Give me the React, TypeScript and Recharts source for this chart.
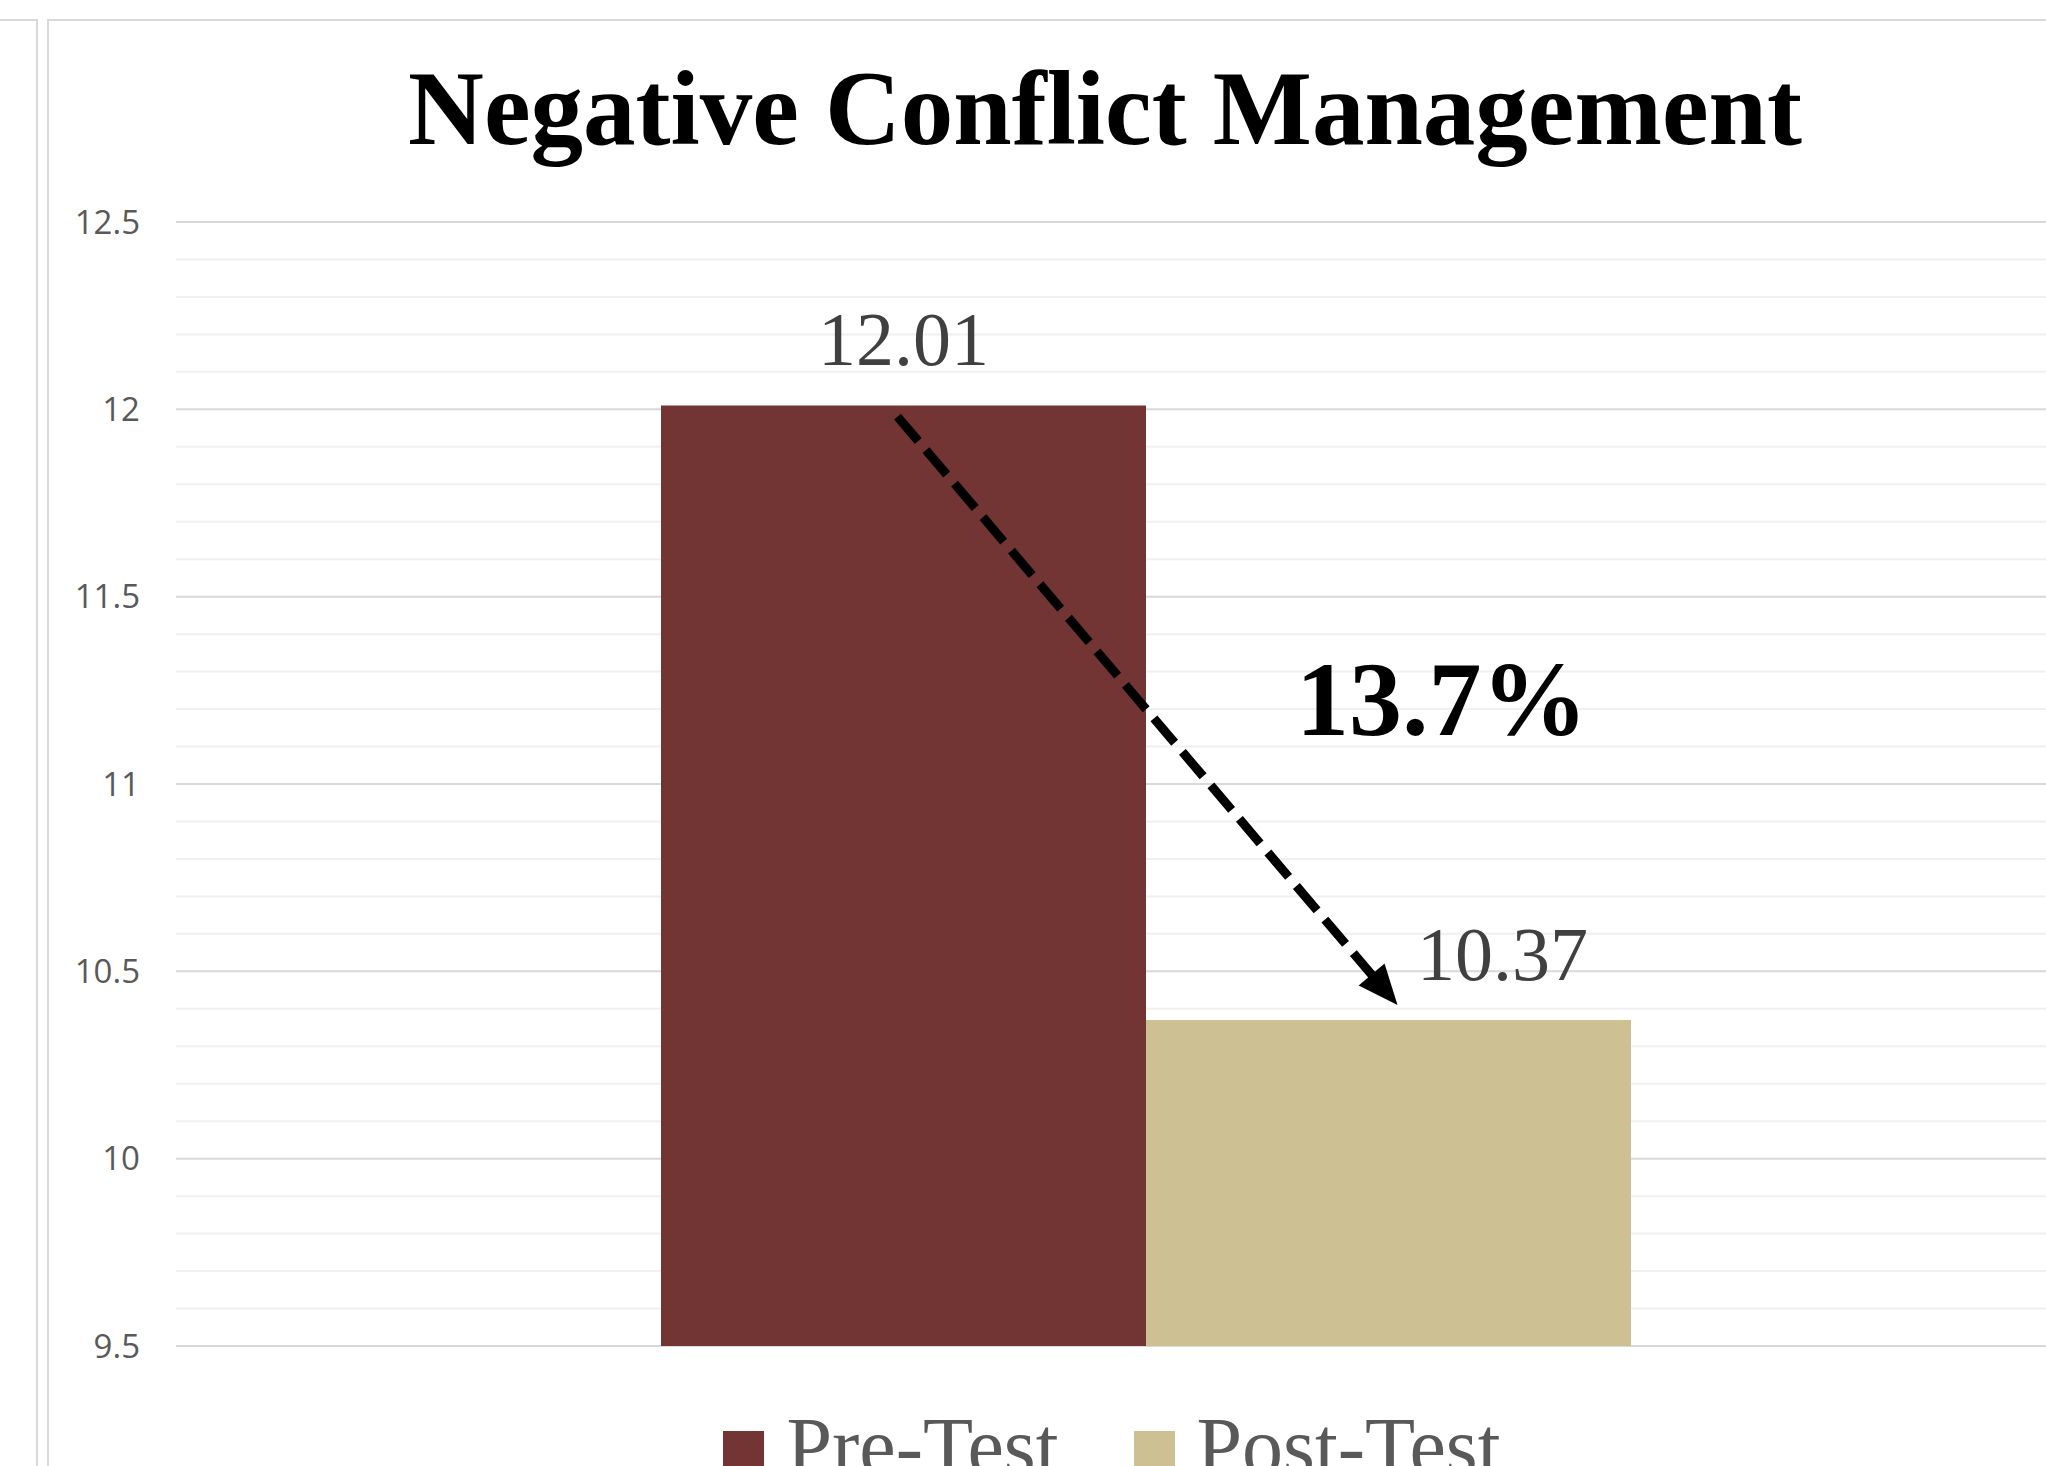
import React from 'react';
import { BarChart, Bar, XAxis, YAxis, CartesianGrid, LabelList } from 'recharts';

// chart values
const categories = ['Negative Conflict Management'];
const preTest = [12.01];
const postTest = [10.37];
const seriesNames = ['Pre-Test', 'Post-Test'];
const seriesColors = ['#733434', '#CDC093'];
const majorTicks = [9.5, 10, 10.5, 11, 11.5, 12, 12.5];
const minorTicks = [
  9.6, 9.7, 9.8, 9.9, 10.1, 10.2, 10.3, 10.4, 10.6, 10.7, 10.8, 10.9,
  11.1, 11.2, 11.3, 11.4, 11.6, 11.7, 11.8, 11.9, 12.1, 12.2, 12.3, 12.4,
];
const yDomain = [9.5, 12.5];
const title = 'Negative Conflict Management';

const data = categories.map((name, i) => ({ name, pre: preTest[i], post: postTest[i] }));
const changePct = (((preTest[0] - postTest[0]) / preTest[0]) * 100).toFixed(1) + '%';

const SERIF = '"Liberation Serif", "Times New Roman", serif';
const SANS = '"Open Sans", "Noto Sans", sans-serif';

const valueLabel = (dx: number, lift: number) => (props: any) => {
  const { x, y, width, value } = props;
  return (
    <text
      x={x + width / 2 + dx}
      y={y - lift}
      textAnchor="middle"
      fontFamily={SERIF}
      fontSize={76}
      fill="#404040"
    >
      {value}
    </text>
  );
};

// post bar also carries the dashed arrow + percent change annotation
const PostBarShape = (props: any) => {
  const { x, y, width, height, fill } = props;
  const pxPerUnit = height / (postTest[0] - yDomain[0]);
  const preTop = y + height - (preTest[0] - yDomain[0]) * pxPerUnit;
  const preCenter = x - width / 2;

  const x1 = preCenter - 6;
  const y1 = preTop + 11;
  const x2 = x + width / 2 + 9;
  const y2 = y - 15;
  const len = Math.hypot(x2 - x1, y2 - y1);
  const ux = (x2 - x1) / len;
  const uy = (y2 - y1) / len;
  const headLen = 40;
  const headHalf = 17;
  const bx = x2 - ux * headLen;
  const by = y2 - uy * headLen;

  return (
    <g>
      <rect x={x} y={y} width={width} height={height} fill={fill} />
      <line
        x1={x1}
        y1={y1}
        x2={bx + ux * 2}
        y2={by + uy * 2}
        stroke="#000"
        strokeWidth={9}
        strokeDasharray="32 12"
      />
      <polygon
        points={`${x2},${y2} ${bx - uy * headHalf},${by + ux * headHalf} ${bx + uy * headHalf},${by - ux * headHalf}`}
        fill="#000"
      />
      <text
        x={x + width * 0.61}
        y={(y1 + y2) / 2 + 24}
        textAnchor="middle"
        fontFamily={SERIF}
        fontWeight="bold"
        fontSize={106}
        fill="#000"
      >
        {changePct}
      </text>
    </g>
  );
};

export default function App() {
  return (
    <div
      style={{
        position: 'fixed',
        left: 0,
        top: 0,
        width: 2046,
        height: 1466,
        overflow: 'hidden',
        background: '#fff',
      }}
    >
      {/* neighbouring panel edge and chart frame */}
      <div
        style={{
          position: 'absolute',
          left: -10,
          top: 19,
          width: 44,
          height: 1600,
          border: '2px solid #d9d9d9',
        }}
      />
      <div
        style={{
          position: 'absolute',
          left: 47,
          top: 19,
          width: 2200,
          height: 1600,
          border: '2px solid #d9d9d9',
        }}
      />

      <div
        style={{
          position: 'absolute',
          left: 0,
          top: 56,
          width: 2210,
          textAlign: 'center',
          fontFamily: SERIF,
          fontWeight: 'bold',
          fontSize: 105,
          lineHeight: 1,
          color: '#000',
        }}
      >
        {title}
      </div>

      <div style={{ position: 'absolute', left: 0, top: 0 }}>
        <BarChart
          width={2160}
          height={1560}
          data={data}
          margin={{ top: 222, right: 44, bottom: 214, left: 0 }}
          barGap={0}
          barCategoryGap="25%"
        >
          <CartesianGrid yAxisId="minor" vertical={false} stroke="#f0f0f0" strokeWidth={2} />
          <CartesianGrid yAxisId="major" vertical={false} stroke="#d9d9d9" strokeWidth={2} />
          <XAxis dataKey="name" hide />
          <YAxis
            yAxisId="minor"
            hide
            domain={yDomain}
            ticks={minorTicks}
            allowDataOverflow
          />
          <YAxis
            yAxisId="major"
            width={176}
            domain={yDomain}
            ticks={majorTicks}
            allowDataOverflow
            axisLine={false}
            tickLine={false}
            tickSize={0}
            tickMargin={36}
            tick={{ fill: '#595959', fontSize: 33, fontFamily: SANS }}
          />
          <Bar
            yAxisId="major"
            dataKey="pre"
            name={seriesNames[0]}
            fill={seriesColors[0]}
            isAnimationActive={false}
          >
            <LabelList dataKey="pre" content={valueLabel(0, 41)} />
          </Bar>
          <Bar
            yAxisId="major"
            dataKey="post"
            name={seriesNames[1]}
            fill={seriesColors[1]}
            shape={PostBarShape}
            isAnimationActive={false}
          >
            <LabelList dataKey="post" content={valueLabel(114, 40)} />
          </Bar>
        </BarChart>
      </div>

      {/* legend */}
      <div
        style={{
          position: 'absolute',
          left: 0,
          top: 1406,
          width: 2224,
          display: 'flex',
          justifyContent: 'center',
          alignItems: 'flex-start',
        }}
      >
        {seriesNames.map((n, i) => (
          <div
            key={n}
            style={{ display: 'flex', alignItems: 'flex-start', marginRight: i === 0 ? 75 : 0 }}
          >
            <div
              style={{
                width: 41,
                height: 41,
                marginTop: 25,
                marginRight: 22,
                background: seriesColors[i],
              }}
            />
            <span
              style={{
                fontFamily: SERIF,
                fontSize: 82,
                lineHeight: 1,
                color: '#595959',
              }}
            >
              {n}
            </span>
          </div>
        ))}
      </div>
    </div>
  );
}
